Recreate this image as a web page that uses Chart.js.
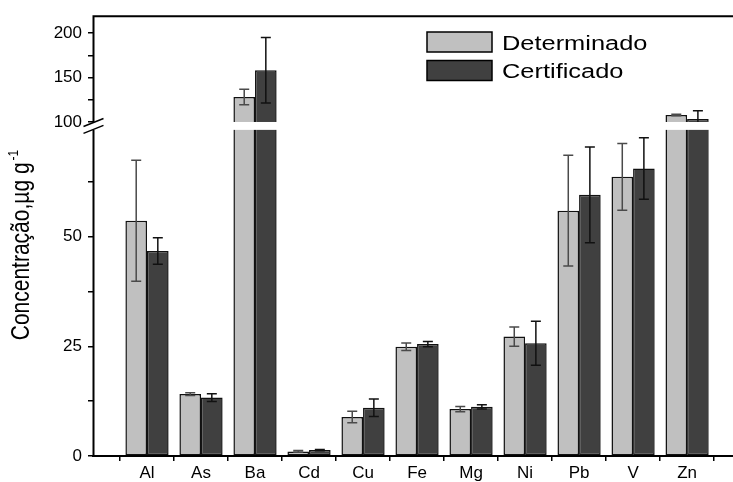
<!DOCTYPE html>
<html>
<head>
<meta charset="utf-8">
<script src="https://cdn.jsdelivr.net/npm/chart.js@4/dist/chart.umd.min.js"></script>
<style>
  html, body { margin: 0; padding: 0; background: #fff; }
  #wrap { width: 733px; height: 482px; position: relative; }
</style>
</head>
<body>
<div id="wrap"><canvas id="chart"></canvas></div>
<script>
const categories = ["Al", "As", "Ba", "Cd", "Cu", "Fe", "Mg", "Ni", "Pb", "V", "Zn"];
const seriesNames = ["Determinado", "Certificado"];
const determinado = [53.6, 14.1, 128.1, 1.05, 8.9, 24.9, 10.7, 27.2, 55.9, 63.6, 107.8];
const determinadoErr = [13.8, 0.3, 8.8, 0.2, 1.3, 0.85, 0.6, 2.2, 12.6, 7.6, 0.8];
const certificado = [46.7, 13.3, 158.1, 1.35, 11.0, 25.5, 11.2, 25.7, 59.5, 65.5, 103.3];
const certificadoErr = [3.0, 0.9, 36.8, 0.15, 2.0, 0.6, 0.5, 5.0, 10.9, 7.0, 9.3];
const yTickValues = [0, 12.5, 25, 37.5, 50, 62.5, 100, 125, 150, 175, 200];
const yTickLabels = ["0", "", "25", "", "50", "", "100", "", "150", "", "200"];

// broken y axis: 0..LOW_MAX drawn 1:1, values from 100 up compressed above the gap
const LOW_MAX = 74.3;
const UP_START = 76.1;
const UP_RATIO = 0.2027;
const AXIS_TOP = 100.2;
function toAxis(v) {
  return v <= LOW_MAX ? v : UP_START + (v - 100) * UP_RATIO;
}

const colors = ["#c0c0c0", "#404040"];
const errColors = ["#4a4a4a", "#111111"];
const errs = [determinadoErr, certificadoErr];
const TEXT_STRETCH = 1.27;

function points(vals) {
  return vals.map((v, i) => ({ x: i + 1, y: toAxis(v) }));
}

const brokenAxis = {
  id: "brokenAxis",
  afterDatasetsDraw(chart) {
    const ctx = chart.ctx;
    const area = chart.chartArea;
    const ys = chart.scales.y;
    // error bars
    [determinado, certificado].forEach((vals, d) => {
      const meta = chart.getDatasetMeta(d);
      ctx.save();
      ctx.strokeStyle = errColors[d];
      ctx.lineWidth = 1.5;
      vals.forEach((v, i) => {
        const x = meta.data[i].x;
        const yTop = ys.getPixelForValue(toAxis(v + errs[d][i]));
        const yBot = ys.getPixelForValue(toAxis(v - errs[d][i]));
        ctx.beginPath();
        ctx.moveTo(x, yTop); ctx.lineTo(x, yBot);
        ctx.moveTo(x - 5, yTop); ctx.lineTo(x + 5, yTop);
        ctx.moveTo(x - 5, yBot); ctx.lineTo(x + 5, yBot);
        ctx.stroke();
      });
      ctx.restore();
    });
    // white gap through the bars
    const gapTop = ys.getPixelForValue(UP_START);
    const gapBot = ys.getPixelForValue(LOW_MAX);
    ctx.save();
    ctx.fillStyle = "#fff";
    ctx.fillRect(area.left + 1, gapTop, area.right - area.left, gapBot - gapTop);
    ctx.restore();
  },
  afterDraw(chart) {
    const ctx = chart.ctx;
    const area = chart.chartArea;
    const ys = chart.scales.y;
    const gapTop = ys.getPixelForValue(UP_START);
    const gapBot = ys.getPixelForValue(LOW_MAX);
    const ax = area.left + 0.5;
    ctx.save();
    ctx.strokeStyle = "#000";
    ctx.lineWidth = 2;
    ctx.beginPath();
    ctx.moveTo(ax, area.bottom); ctx.lineTo(ax, gapBot);
    ctx.moveTo(ax, gapTop); ctx.lineTo(ax, area.top);
    ctx.lineTo(area.right, area.top);
    ctx.stroke();
    ctx.lineWidth = 1.5;
    ctx.beginPath();
    ctx.moveTo(ax - 10, gapTop + 4.5); ctx.lineTo(ax + 10, gapTop - 3.5);
    ctx.moveTo(ax - 10, gapBot + 3.5); ctx.lineTo(ax + 10, gapBot - 4.5);
    ctx.stroke();

    // legend
    ctx.fillStyle = "#000";
    ctx.textBaseline = "alphabetic";
    ctx.font = '20px "Liberation Sans", Arial, sans-serif';
    seriesNames.forEach((name, i) => {
      const top = 32 + i * 28.5;
      ctx.fillStyle = colors[i];
      ctx.fillRect(427, top, 65, 20);
      ctx.strokeStyle = "#000";
      ctx.lineWidth = 1.5;
      ctx.strokeRect(427, top, 65, 20);
      ctx.fillStyle = "#000";
      ctx.save();
      ctx.translate(502, top + 17.5);
      ctx.scale(TEXT_STRETCH, 1);
      ctx.fillText(name, 0, 0);
      ctx.restore();
    });

    // y axis title with superscript
    const main = "Concentração,µg g";
    const sup = "-1";
    ctx.save();
    ctx.translate(29, 245);
    ctx.rotate(-Math.PI / 2);
    ctx.scale(1, TEXT_STRETCH);
    ctx.font = '21px "Liberation Sans", Arial, sans-serif';
    const wMain = ctx.measureText(main).width;
    ctx.font = '12px "Liberation Sans", Arial, sans-serif';
    const wSup = ctx.measureText(sup).width;
    const start = -(wMain + wSup + 2) / 2;
    ctx.font = '21px "Liberation Sans", Arial, sans-serif';
    ctx.fillText(main, start, 0);
    ctx.font = '12px "Liberation Sans", Arial, sans-serif';
    ctx.fillText(sup, start + wMain + 2, -9);
    ctx.restore();
    ctx.restore();
  }
};

new Chart(document.getElementById("chart"), {
  type: "bar",
  data: {
    datasets: [
      { label: seriesNames[0], data: points(determinado), backgroundColor: colors[0] },
      { label: seriesNames[1], data: points(certificado), backgroundColor: colors[1] }
    ]
  },
  options: {
    responsive: true,
    maintainAspectRatio: false,
    animation: false,
    layout: { padding: { top: 11, left: 0, right: 0, bottom: 0 } },
    datasets: {
      bar: {
        borderColor: "#111",
        borderWidth: 1.5,
        borderSkipped: false,
        categoryPercentage: 0.8,
        barPercentage: 1.0
      }
    },
    plugins: { legend: { display: false }, tooltip: { enabled: false } },
    scales: {
      x: {
        type: "linear",
        offset: false,
        min: 0,
        max: 11.85,
        afterFit: (s) => { s.height = 26; },
        afterBuildTicks: (s) => {
          s.ticks = categories.concat([""]).map((c, i) => ({ value: i + 0.5 }));
        },
        ticks: {
          callback: (val, i) => categories[i] || "",
          labelOffset: 27,
          padding: 2,
          color: "#000",
          font: { family: '"Liberation Sans", Arial, sans-serif', size: 17 },
          maxRotation: 0,
          autoSkip: false
        },
        grid: { offset: false, drawOnChartArea: false, tickLength: 5, color: "#000", lineWidth: 1.5 },
        border: { display: true, color: "#000", width: 2 }
      },
      y: {
        min: 0,
        max: AXIS_TOP,
        afterFit: (s) => { s.width = 93; },
        afterBuildTicks: (s) => {
          s.ticks = yTickValues.map((v) => ({ value: toAxis(v) }));
        },
        ticks: {
          callback: (val, i) => yTickLabels[i],
          padding: 6,
          color: "#000",
          font: { family: '"Liberation Sans", Arial, sans-serif', size: 17 },
          autoSkip: false
        },
        grid: { drawOnChartArea: false, tickLength: 5, color: "#000", lineWidth: 1.5 },
        border: { display: false }
      }
    }
  },
  plugins: [brokenAxis]
});
</script>
</body>
</html>
